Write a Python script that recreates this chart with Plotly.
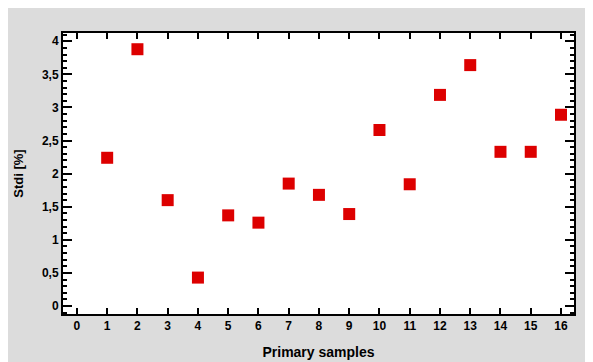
import plotly.graph_objects as go

samples = list(range(1, 17))
stdi = [2.24, 3.88, 1.60, 0.43, 1.37, 1.26, 1.85, 1.68, 1.39, 2.66, 1.84, 3.19, 3.64, 2.33, 2.33, 2.89]

W, H = 585, 354
L, R, T, B = 55, 566, 25, 306

fig = go.Figure()
fig.add_trace(go.Scatter(
    x=samples, y=stdi, mode="markers",
    marker=dict(symbol="square", size=12, color="#dd0000"),
    showlegend=False,
))

font = dict(family="Liberation Sans, Arial, sans-serif", size=12, color="black")

fig.update_layout(
    width=W, height=H,
    margin=dict(l=L, r=W - R, t=T, b=H - B, pad=0, autoexpand=False),
    paper_bgcolor="#dcdcdc",
    plot_bgcolor="white",
    separators=",.",
    font=font,
    xaxis=dict(
        range=[-0.46, 16.43], tickmode="array", tickvals=list(range(0, 17)),
        ticktext=[f"<b>{v}</b>" for v in range(0, 17)],
        ticks="inside", ticklen=6, tickwidth=2, tickcolor="black",
        showline=True, linewidth=2, linecolor="black", mirror="allticks",
        showgrid=False, zeroline=False, automargin=False,
        title=dict(text="<b>Primary samples</b>", font=dict(size=14)),
    ),
    yaxis=dict(
        range=[-0.12, 4.125], tickmode="array",
        tickvals=[0, 0.5, 1, 1.5, 2, 2.5, 3, 3.5, 4],
        ticktext=["<b>0</b>", "<b>0,5</b>", "<b>1</b>", "<b>1,5</b>", "<b>2</b>",
                  "<b>2,5</b>", "<b>3</b>", "<b>3,5</b>", "<b>4</b>"],
        ticks="inside", ticklen=9, tickwidth=2, tickcolor="black",
        minor=dict(ticks="inside", dtick=0.1, tick0=0, ticklen=4, tickwidth=1.5, tickcolor="black"),
        showline=True, linewidth=2, linecolor="black", mirror="allticks",
        showgrid=False, zeroline=False, automargin=False,
        title=dict(text="<b>Stdi [%]</b>", font=dict(size=13)),
    ),
)

fig.write_html("out.html")
